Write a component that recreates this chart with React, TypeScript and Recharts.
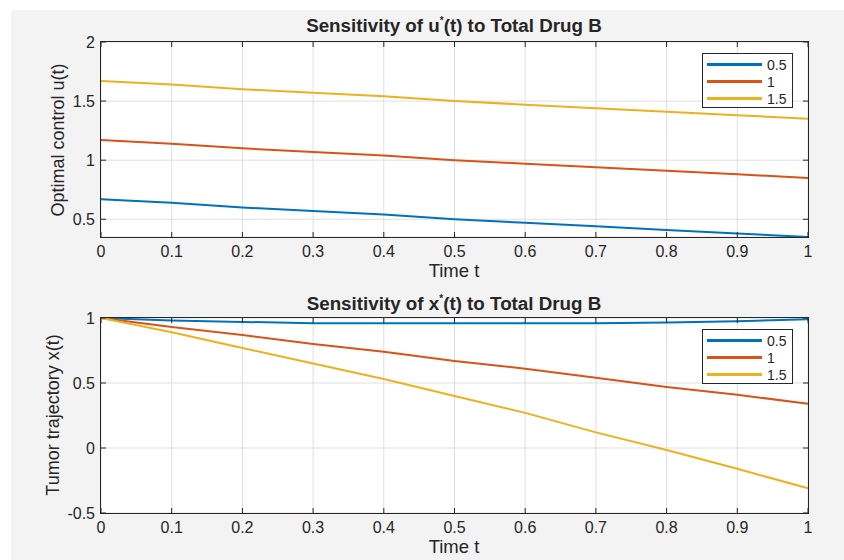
import React from 'react';
import { CartesianGrid, Legend, Line, LineChart, XAxis, YAxis } from 'recharts';

// time grid and the three drug-B totals
const timeT = [0, 0.1, 0.2, 0.3, 0.4, 0.5, 0.6, 0.7, 0.8, 0.9, 1];
const seriesNames = ['0.5', '1', '1.5'];
const seriesColors = ['#0072BD', '#D95319', '#EDB120'];

// optimal control u*(t)
const uDrug05 = [0.67, 0.64, 0.6, 0.57, 0.54, 0.5, 0.47, 0.44, 0.41, 0.38, 0.35];
const uDrug1 = [1.17, 1.14, 1.1, 1.07, 1.04, 1.0, 0.97, 0.94, 0.91, 0.88, 0.85];
const uDrug15 = [1.67, 1.64, 1.6, 1.57, 1.54, 1.5, 1.47, 1.44, 1.41, 1.38, 1.35];

// tumor trajectory x*(t)
const xDrug05 = [1, 0.98, 0.97, 0.96, 0.96, 0.96, 0.96, 0.96, 0.965, 0.975, 0.99];
const xDrug1 = [1, 0.93, 0.87, 0.8, 0.74, 0.67, 0.61, 0.54, 0.47, 0.41, 0.34];
const xDrug15 = [1, 0.89, 0.77, 0.65, 0.53, 0.4, 0.27, 0.12, -0.015, -0.16, -0.31];

const timeTicks = [0, 0.1, 0.2, 0.3, 0.4, 0.5, 0.6, 0.7, 0.8, 0.9, 1];
const uTicks = [0.5, 1, 1.5, 2];
const xTicks = [-0.5, 0, 0.5, 1];

const FONT = '"Liberation Sans", Arial, Helvetica, sans-serif';
const INK = '#262626';

const uTable = timeT.map((t, i) => ({ t, s0: uDrug05[i], s1: uDrug1[i], s2: uDrug15[i] }));
const xTable = timeT.map((t, i) => ({ t, s0: xDrug05[i], s1: xDrug1[i], s2: xDrug15[i] }));

// plot box (inside each 844x280 panel)
const PLOT_LEFT = 101;
const PLOT_RIGHT = 808;
const TICK_LEN = 5;

const LegendBox = ({ payload }: any) => (
  <div
    style={{
      width: 91,
      height: 55,
      boxSizing: 'border-box',
      border: `1.3px solid ${INK}`,
      background: '#fff',
      paddingTop: 2,
      paddingLeft: 4,
      fontFamily: FONT,
      fontSize: 14,
      color: INK,
    }}
  >
    {(payload || []).map((p: any) => (
      <div key={p.value} style={{ display: 'flex', alignItems: 'center', height: 17 }}>
        <div style={{ width: 55, height: 2.5, background: p.color }} />
        <span style={{ marginLeft: 5, lineHeight: '14px' }}>{p.value}</span>
      </div>
    ))}
  </div>
);

// x tick: inward marks at bottom and top of the box + label below
const makeXTick = (top: number, bottom: number) => (props: any) => {
  const { x, payload } = props;
  return (
    <g>
      <line x1={x} x2={x} y1={bottom} y2={bottom - TICK_LEN} stroke={INK} />
      <line x1={x} x2={x} y1={top} y2={top + TICK_LEN} stroke={INK} />
      <text x={x} y={bottom + 20} textAnchor="middle" fill={INK} fontSize={16} fontFamily={FONT}>
        {payload.value}
      </text>
    </g>
  );
};

// y tick: inward marks at left and right of the box + label at left
const YTick = (props: any) => {
  const { y, payload } = props;
  return (
    <g>
      <line x1={PLOT_LEFT} x2={PLOT_LEFT + TICK_LEN} y1={y} y2={y} stroke={INK} />
      <line x1={PLOT_RIGHT} x2={PLOT_RIGHT - TICK_LEN} y1={y} y2={y} stroke={INK} />
      <text x={PLOT_LEFT - 6} y={y + 6} textAnchor="end" fill={INK} fontSize={16} fontFamily={FONT}>
        {payload.value}
      </text>
    </g>
  );
};

interface PanelProps {
  data: any[];
  domain: [number, number];
  yTicks: number[];
  marginTop: number;
  marginBottom: number;
}

const Panel = ({ data, domain, yTicks, marginTop, marginBottom }: PanelProps) => {
  const bottom = 280 - marginBottom - 30;
  return (
    <div style={{ position: 'relative', width: 844, height: 280 }}>
      <LineChart
        width={844}
        height={280}
        data={data}
        margin={{ top: marginTop, right: 844 - PLOT_RIGHT, left: PLOT_LEFT - 60, bottom: marginBottom }}
      >
        <CartesianGrid stroke="#dfdfdf" fill="#fff" />
        <XAxis
          dataKey="t"
          type="number"
          domain={[0, 1]}
          ticks={timeTicks}
          interval={0}
          height={30}
          axisLine={false}
          tickLine={false}
          tick={makeXTick(marginTop, bottom)}
        />
        <YAxis
          type="number"
          domain={domain}
          ticks={yTicks}
          interval={0}
          width={60}
          axisLine={false}
          tickLine={false}
          tick={<YTick />}
        />
        {seriesNames.map((name, i) => (
          <Line
            key={name}
            type="linear"
            dataKey={`s${i}`}
            name={name}
            stroke={seriesColors[i]}
            strokeWidth={2}
            dot={false}
            isAnimationActive={false}
          />
        ))}
        <Legend
          layout="vertical"
          align="center"
          verticalAlign="middle"
          content={<LegendBox />}
          wrapperStyle={{ left: 702, top: marginTop + 11, width: 91, height: 55 }}
        />
      </LineChart>
      {/* axes box */}
      <div
        style={{
          position: 'absolute',
          left: PLOT_LEFT - 0.65,
          top: marginTop - 0.65,
          width: PLOT_RIGHT - PLOT_LEFT + 1.3,
          height: bottom - marginTop + 1.3,
          boxSizing: 'border-box',
          border: `1.3px solid ${INK}`,
          pointerEvents: 'none',
        }}
      />
    </div>
  );
};

const textBase: React.CSSProperties = {
  position: 'absolute',
  whiteSpace: 'nowrap',
  fontFamily: FONT,
  color: INK,
};

const Title = ({ y, v }: { y: number; v: string }) => (
  <div
    style={{
      ...textBase,
      left: 454,
      top: y - 9.5,
      transform: 'translateX(-50%)',
      fontSize: 18.8,
      lineHeight: '19px',
      fontWeight: 'bold',
    }}
  >
    Sensitivity of {v}
    <span style={{ fontSize: 10, position: 'relative', top: -8 }}>*</span>(t) to Total Drug B
  </div>
);

const XLabel = ({ y }: { y: number }) => (
  <div
    style={{
      ...textBase,
      left: 454,
      top: y - 9,
      transform: 'translateX(-50%)',
      fontSize: 18.5,
      lineHeight: '18px',
    }}
  >
    Time t
  </div>
);

const YLabel = ({ x, y, text }: { x: number; y: number; text: string }) => (
  <div
    style={{
      ...textBase,
      left: x,
      top: y,
      transform: 'translate(-50%, -50%) rotate(-90deg)',
      fontSize: 18,
      lineHeight: '18px',
    }}
  >
    {text}
  </div>
);

export default function App() {
  return (
    <div style={{ position: 'absolute', left: 0, top: 0, width: 844, height: 560, background: '#fff' }}>
      <div style={{ position: 'absolute', left: 11, top: 10, width: 833, height: 550, background: '#f3f3f3' }} />
      <div style={{ position: 'absolute', left: 0, top: 0 }}>
        <Panel data={uTable} domain={[0.35, 2]} yTicks={uTicks} marginTop={42} marginBottom={13} />
      </div>
      <div style={{ position: 'absolute', left: 0, top: 280 }}>
        <Panel data={xTable} domain={[-0.5, 1]} yTicks={xTicks} marginTop={38} marginBottom={17} />
      </div>
      <Title y={25} v="u" />
      <Title y={303} v="x" />
      <XLabel y={271} />
      <XLabel y={547} />
      <YLabel x={58} y={140} text="Optimal control u(t)" />
      <YLabel x={53} y={415} text="Tumor trajectory x(t)" />
    </div>
  );
}
